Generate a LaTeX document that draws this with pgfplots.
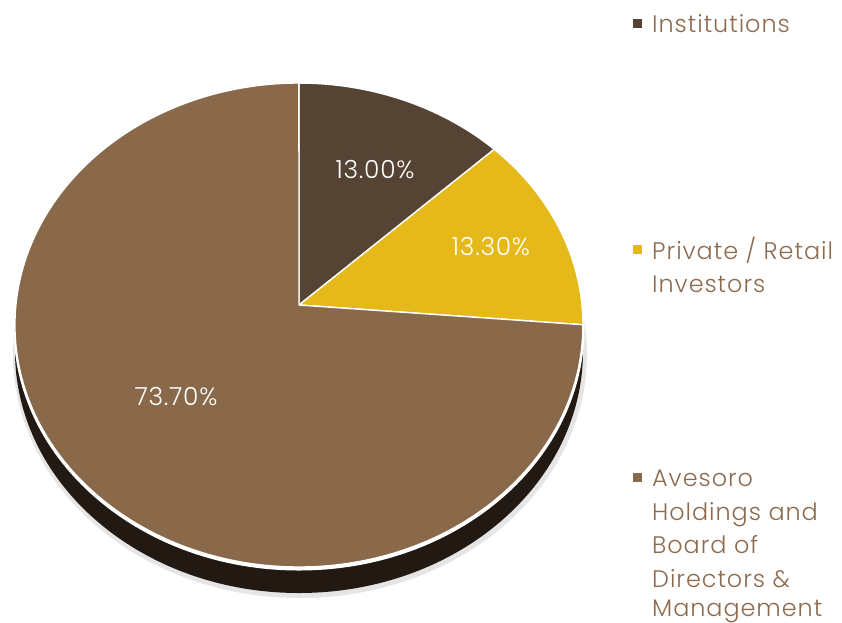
\documentclass[border=0pt]{standalone}
\usepackage{pgfplots}
\pgfplotsset{compat=1.18}
\usepackage{pgfplotstable}
\usepackage{fontspec}
\setmainfont{Poppins Light}

\definecolor{instc}{HTML}{554333}
\definecolor{privc}{HTML}{E5B919}
\definecolor{avesc}{HTML}{8A694B}
\definecolor{sidec}{HTML}{221912}
\definecolor{legtxt}{HTML}{8C6B4F}

% shareholder structure, percent
\pgfplotstableread{
name      share
Inst      13.00
Private   13.30
Avesoro   73.70
}\shares

% point on the rim for pie angle #1 (perspective view), stored as #2X #2Y #2P
\newcommand\pieedge[2]{%
  \pgfmathsetmacro\ps{sin(#1)}%
  \pgfmathsetmacro\pc{cos(#1)}%
  \pgfmathsetmacro\pd{1+0.0826*\ps}%
  \pgfmathsetmacro\px{283*\pc/\pd}%
  \pgfmathsetmacro\py{240.3*\ps/\pd}%
  \pgfmathsetmacro\pp{atan2((\py+20)/242,\px/284)}%
  \pgfmathsetmacro\pX{299+\px}%
  \pgfmathsetmacro\pY{305-\py}%
  \expandafter\let\csname #2X\endcsname\pX
  \expandafter\let\csname #2Y\endcsname\pY
  \expandafter\let\csname #2P\endcsname\pp
}
\newcommand\valfont{\fontsize{25}{25}\selectfont\addfontfeatures{LetterSpace=3}}
\newcommand\legfont{\fontsize{24}{24}\selectfont\addfontfeatures{LetterSpace=4}}

\begin{document}
\begin{tikzpicture}
\pgfplotstablegetelem{0}{share}\of\shares \let\va\pgfplotsretval
\pgfplotstablegetelem{1}{share}\of\shares \let\vb\pgfplotsretval
\pgfmathsetmacro\ta{90}
\pgfmathsetmacro\tb{90-3.6*\va}
\pgfmathsetmacro\tc{\tb-3.6*\vb}
\pieedge{\ta}{ea}
\pieedge{\tb}{eb}
\pieedge{\tc}{ec}
\pgfmathsetmacro\eaPend{\eaP-360}
\pgfmathsetmacro\ecPfix{\ecP>\ebP ? \ecP-360 : \ecP}

\begin{axis}[
    x=1bp, y=1bp,
    xmin=0, xmax=842, ymin=0, ymax=623,
    y dir=reverse,
    hide axis, clip=false,
    ]
    % side of the disc and soft shadow
    \fill[black!10] (axis cs:300,354) ellipse [x radius=287bp, y radius=244bp];
    \fill[sidec] (axis cs:299,351) ellipse [x radius=284bp, y radius=242bp];
    \fill[white] (axis cs:299,327) ellipse [x radius=285.5bp, y radius=243.5bp];
    % wedges
    \filldraw[fill=instc, draw=white, line width=1.4bp, line join=round]
        (axis cs:299,305) -- (axis cs:\eaX,\eaY)
        arc[start angle=\eaP, end angle=\ebP, x radius=284bp, y radius=242bp] -- cycle;
    \filldraw[fill=privc, draw=white, line width=1.4bp, line join=round]
        (axis cs:299,305) -- (axis cs:\ebX,\ebY)
        arc[start angle=\ebP, end angle=\ecPfix, x radius=284bp, y radius=242bp] -- cycle;
    \filldraw[fill=avesc, draw=white, line width=1.4bp, line join=round]
        (axis cs:299,305) -- (axis cs:\ecX,\ecY)
        arc[start angle=\ecPfix, end angle=\eaPend, x radius=284bp, y radius=242bp] -- cycle;
    % value labels
    \node[white, anchor=base, font=\valfont] at (axis cs:375,178) {13.00\%};
    \node[white, anchor=base, font=\valfont] at (axis cs:491,255) {13.30\%};
    \node[white, anchor=base, font=\valfont] at (axis cs:176,405) {73.70\%};
    % legend
    \fill[instc] (axis cs:633,19) rectangle (axis cs:642,28);
    \fill[privc] (axis cs:633,245) rectangle (axis cs:642,254);
    \fill[avesc] (axis cs:633,473) rectangle (axis cs:642,482);
    \node[legtxt, anchor=base west, inner xsep=0pt, font=\legfont] at (axis cs:652,32) {Institutions};
    \node[legtxt, anchor=base west, inner xsep=0pt, font=\legfont] at (axis cs:652,259) {Private / Retail};
    \node[legtxt, anchor=base west, inner xsep=0pt, font=\legfont] at (axis cs:652,292) {Investors};
    \node[legtxt, anchor=base west, inner xsep=0pt, font=\legfont] at (axis cs:652,486) {Avesoro};
    \node[legtxt, anchor=base west, inner xsep=0pt, font=\legfont] at (axis cs:652,520) {Holdings and};
    \node[legtxt, anchor=base west, inner xsep=0pt, font=\legfont] at (axis cs:652,553) {Board of};
    \node[legtxt, anchor=base west, inner xsep=0pt, font=\legfont] at (axis cs:652,587) {Directors \&};
    \node[legtxt, anchor=base west, inner xsep=0pt, font=\legfont] at (axis cs:652,616) {Management};
\end{axis}
\pgfresetboundingbox
\path (0,0) rectangle (842bp,623bp);
\end{tikzpicture}
\end{document}
